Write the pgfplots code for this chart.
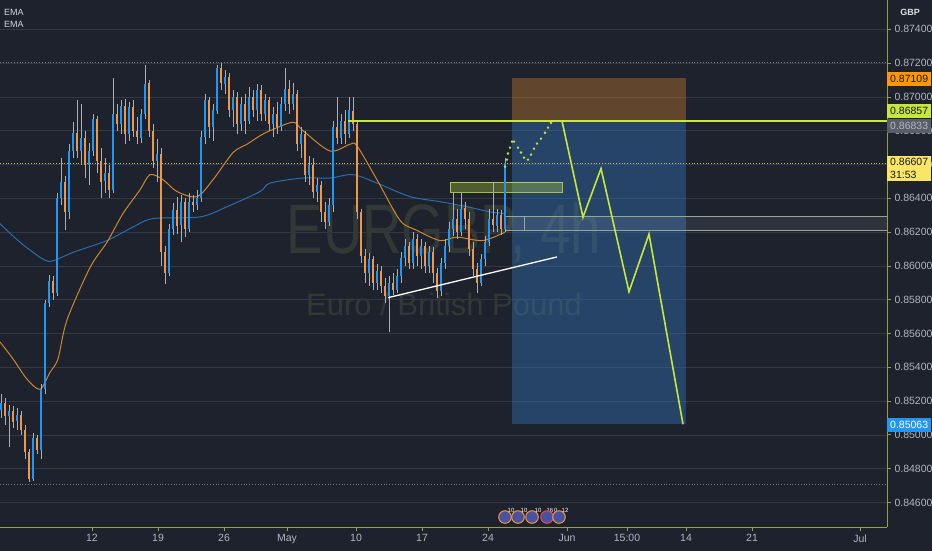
\documentclass[border=0pt]{standalone}
\usepackage{fontspec}
\setmainfont{Liberation Sans}
\usepackage{pgfplots}
\pgfplotsset{compat=1.18}
\usepackage{pgfplotstable}

\definecolor{bg}{RGB}{30,34,45}
\definecolor{gridc}{RGB}{52,56,68}
\definecolor{txt}{RGB}{178,181,190}
\definecolor{upc}{RGB}{33,150,243}
\definecolor{dnc}{RGB}{240,150,75}
\definecolor{wick}{RGB}{170,174,182}
\definecolor{limeg}{RGB}{200,230,60}
\definecolor{axisc}{RGB}{150,160,70}
\definecolor{emao}{RGB}{205,135,45}
\definecolor{emab}{RGB}{40,110,175}
\definecolor{wm}{RGB}{50,56,53}
\definecolor{boxblue}{RGB}{50,120,190}
\definecolor{boxbrown}{RGB}{180,115,45}
\definecolor{lbldark}{RGB}{19,23,34}
\tikzset{plbl/.style={anchor=west, inner xsep=3pt, inner ysep=0pt, minimum height=14pt, font=\fontsize{10.5}{12}\selectfont}}

% 4h candles, x in chart pixels
\pgfplotstableread{
x o h l c
1 0.8515 0.8524 0.8510 0.8519
5 0.8519 0.8522 0.8506 0.8511
9 0.8511 0.8518 0.8493 0.8514
13 0.8514 0.8517 0.8504 0.8508
17 0.8508 0.8516 0.8503 0.8512
21 0.8512 0.8514 0.8500 0.8503
25 0.8503 0.8506 0.8486 0.8490
29 0.8490 0.8492 0.8472 0.8474
33 0.8474 0.8501 0.8473 0.8498
37 0.8498 0.8500 0.8489 0.8491
41 0.8491 0.8530 0.8486 0.8527
45 0.8527 0.8580 0.8524 0.8578
49 0.8578 0.8595 0.8576 0.8591
53 0.8591 0.8594 0.8580 0.8584
57 0.8584 0.8643 0.8582 0.8640
61 0.8640 0.8664 0.8636 0.8650
65 0.8650 0.8653 0.8621 0.8632
69 0.8632 0.8672 0.8628 0.8668
73 0.8668 0.8685 0.8664 0.8679
77 0.8679 0.8698 0.8664 0.8668
81 0.8668 0.8696 0.8660 0.8676
85 0.8676 0.8680 0.8652 0.8660
89 0.8660 0.8673 0.8648 0.8668
93 0.8668 0.8690 0.8665 0.8687
97 0.8687 0.8689 0.8655 0.8662
101 0.8662 0.8670 0.8640 0.8650
105 0.8650 0.8664 0.8643 0.8655
109 0.8655 0.8660 0.8640 0.8645
113 0.8645 0.8711 0.8643 0.8690
117 0.8690 0.8696 0.8680 0.8684
121 0.8684 0.8698 0.8678 0.8695
125 0.8695 0.8699 0.8672 0.8678
129 0.8678 0.8697 0.8674 0.8694
133 0.8694 0.8698 0.8676 0.8680
137 0.8680 0.8688 0.8672 0.8676
141 0.8676 0.8693 0.8673 0.8690
145 0.8690 0.8719 0.8687 0.8708
149 0.8708 0.8710 0.8676 0.8680
153 0.8680 0.8684 0.8658 0.8662
157 0.8662 0.8675 0.8650 0.8666
161 0.8666 0.8670 0.8600 0.8608
165 0.8608 0.8612 0.8589 0.8596
169 0.8596 0.8625 0.8594 0.8622
173 0.8622 0.8637 0.8618 0.8633
177 0.8633 0.8641 0.8619 0.8624
181 0.8624 0.8642 0.8614 0.8638
185 0.8638 0.8640 0.8617 0.8622
189 0.8622 0.8643 0.8620 0.8638
193 0.8638 0.8642 0.8632 0.8636
197 0.8636 0.8645 0.8633 0.8640
201 0.8640 0.8680 0.8638 0.8676
205 0.8676 0.8702 0.8672 0.8698
209 0.8698 0.8700 0.8676 0.8682
213 0.8682 0.8696 0.8674 0.8692
217 0.8692 0.8719 0.8690 0.8717
221 0.8717 0.8720 0.8704 0.8708
225 0.8708 0.8716 0.8702 0.8712
229 0.8712 0.8714 0.8688 0.8692
233 0.8692 0.8704 0.8682 0.8700
237 0.8700 0.8703 0.8678 0.8684
241 0.8684 0.8700 0.8680 0.8696
245 0.8696 0.8702 0.8678 0.8686
249 0.8686 0.8706 0.8684 0.8700
253 0.8700 0.8704 0.8688 0.8692
257 0.8692 0.8708 0.8686 0.8704
261 0.8704 0.8707 0.8686 0.8690
265 0.8690 0.8702 0.8686 0.8698
269 0.8698 0.8700 0.8680 0.8684
273 0.8684 0.8694 0.8676 0.8690
277 0.8690 0.8697 0.8678 0.8682
281 0.8682 0.8700 0.8680 0.8696
285 0.8696 0.8717 0.8692 0.8705
289 0.8705 0.8710 0.8690 0.8696
293 0.8696 0.8708 0.8692 0.8702
297 0.8702 0.8704 0.8668 0.8672
301 0.8672 0.8682 0.8664 0.8678
305 0.8678 0.8680 0.8650 0.8654
309 0.8654 0.8665 0.8648 0.8660
313 0.8660 0.8664 0.8640 0.8644
317 0.8644 0.8652 0.8638 0.8648
321 0.8648 0.8650 0.8626 0.8632
325 0.8632 0.8638 0.8622 0.8626
329 0.8626 0.8640 0.8624 0.8636
333 0.8636 0.8686 0.8632 0.8682
337 0.8682 0.8700 0.8672 0.8676
341 0.8676 0.8690 0.8672 0.8686
345 0.8686 0.8692 0.8672 0.8678
349 0.8678 0.8700 0.8676 0.8692
353 0.8692 0.8700 0.8680 0.8684
357 0.8684 0.8686 0.8628 0.8632
361 0.8632 0.8634 0.8602 0.8606
365 0.8606 0.8610 0.8590 0.8596
369 0.8596 0.8608 0.8588 0.8604
373 0.8604 0.8606 0.8586 0.8590
377 0.8590 0.8601 0.8586 0.8597
381 0.8597 0.8600 0.8584 0.8588
385 0.8588 0.8593 0.8578 0.8582
389 0.8582 0.8594 0.8561 0.8590
393 0.8590 0.8596 0.8583 0.8586
397 0.8586 0.8598 0.8584 0.8594
401 0.8594 0.8608 0.8590 0.8605
405 0.8605 0.8616 0.8600 0.8612
409 0.8612 0.8614 0.8598 0.8602
413 0.8602 0.8620 0.8598 0.8616
417 0.8616 0.8619 0.8600 0.8606
421 0.8606 0.8616 0.8598 0.8612
425 0.8612 0.8614 0.8596 0.8600
429 0.8600 0.8612 0.8596 0.8608
433 0.8608 0.8611 0.8590 0.8596
437 0.8596 0.8599 0.8581 0.8585
441 0.8585 0.8605 0.8582 0.8602
445 0.8602 0.8616 0.8598 0.8612
449 0.8612 0.8626 0.8608 0.8622
453 0.8622 0.8643 0.8618 0.8628
457 0.8628 0.8634 0.8616 0.8620
461 0.8620 0.8643 0.8618 0.8634
465 0.8634 0.8638 0.8622 0.8628
469 0.8628 0.8632 0.8606 0.8610
473 0.8610 0.8614 0.8594 0.8598
477 0.8598 0.8602 0.8584 0.8590
481 0.8590 0.8607 0.8588 0.8604
485 0.8604 0.8618 0.8600 0.8614
489 0.8614 0.8634 0.8612 0.8628
493 0.8628 0.8649 0.8620 0.8624
497 0.8624 0.8634 0.8620 0.8630
501 0.8630 0.8633 0.8618 0.8622
505 0.8622 0.8664 0.8620 0.8661
}\candles

\begin{document}
\begin{tikzpicture}[x=1pt,y=1pt]
\fill[bg] (-600,-600) rectangle (1600,1600);
\begin{axis}[
  scale only axis, width=887pt, height=527pt,
  xmin=0, xmax=887, ymin=0.84455, ymax=0.875734,
  clip=false,
  axis x line*=bottom, axis y line*=right,
  axis line style={axisc, line width=0.8pt, -},
  tick align=outside, major tick length=4pt,
  tick style={axisc, line width=0.8pt},
  xtick={92,158,224,287,356,422,488,567,627,686,752,860},
  xticklabels={12,19,26,May,10,17,24,Jun,15:00,14,21,Jul},
  ytick={0.846,0.848,0.850,0.852,0.854,0.856,0.858,0.860,0.862,0.864,0.866,0.868,0.870,0.872,0.874},
  scaled y ticks=false,
  yticklabel style={/pgf/number format/.cd, fixed, fixed zerofill, precision=5, assume math mode=true},
  ticklabel style={font=\fontsize{10.5}{12}\selectfont, text=txt},
  ymajorgrids, major grid style={gridc, line width=0.6pt},
]
\coordinate (BL) at (axis cs:0,0.84455);
\coordinate (P1) at (axis cs:887,0.87106);
\coordinate (P2) at (axis cs:887,0.86918);
\coordinate (P3) at (axis cs:887,0.86830);
\coordinate (P4) at (axis cs:887,0.86576);
\coordinate (P5) at (axis cs:887,0.85059);
% watermark
\node[text=wm, font=\fontsize{70}{70}\selectfont, xscale=0.78, anchor=base] at (axis cs:444,0.86076) {EURGBP, 4h};
\node[text=wm, font=\fontsize{31}{31}\selectfont, anchor=base] at (axis cs:444,0.85709) {Euro / British Pound};

% position tool
\addplot[fill=boxbrown, fill opacity=0.45, draw=none] coordinates {(512,0.87109) (686,0.87109) (686,0.86857) (512,0.86857)} -- cycle;
\addplot[fill=boxblue, fill opacity=0.4, draw=none] coordinates {(512,0.86857) (686,0.86857) (686,0.85063) (512,0.85063)} -- cycle;

% zone band and rectangles
\addplot[fill=white, fill opacity=0.08, draw=none] coordinates {(505,0.86294) (887,0.86294) (887,0.86212) (505,0.86212)} -- cycle;
\addplot[draw={rgb,255:red,150;green,165;blue,150}, line width=0.8pt] coordinates {(505,0.86294) (887,0.86294)};
\addplot[draw={rgb,255:red,150;green,165;blue,150}, line width=0.8pt] coordinates {(505,0.86212) (887,0.86212)};
\addplot[draw={rgb,255:red,150;green,165;blue,150}, line width=0.8pt] coordinates {(505,0.86294) (505,0.86212)};
\addplot[draw={rgb,255:red,150;green,165;blue,150}, line width=0.8pt] coordinates {(524,0.86294) (524,0.86212)};
\addplot[fill=limeg, fill opacity=0.3, draw=limeg, draw opacity=0.8, line width=0.8pt] coordinates {(450,0.86496) (562,0.86496) (562,0.86437) (450,0.86437)} -- cycle;

% dotted reference lines
\addplot[draw={rgb,255:red,120;green,124;blue,134}, dotted, line width=0.8pt] coordinates {(0,0.87202) (887,0.87202)};
\addplot[draw={rgb,255:red,120;green,124;blue,134}, dotted, line width=0.8pt] coordinates {(0,0.84710) (887,0.84710)};
\addplot[draw={rgb,255:red,200;green,190;blue,90}, dotted, line width=0.8pt] coordinates {(0,0.86607) (887,0.86607)};

% EMAs
\addplot[draw=emab, line width=1pt, smooth] coordinates {
(0,0.8625) (20,0.8614) (43,0.8604) (53,0.8603) (73,0.8608) (107,0.8615) (133,0.8623)
(153,0.8628) (200,0.8629) (227,0.8635) (260,0.8644) (270,0.8649) (303,0.8652) (330,0.8652)
(353,0.8654) (377,0.8649) (410,0.8641) (440,0.8638) (467,0.8635) (490,0.8632) (505,0.8631)};
\addplot[draw=emao, line width=1pt, smooth] coordinates {
(0,0.8555) (13,0.8545) (27,0.8533) (40,0.8527) (50,0.8537) (58,0.8545) (67,0.8568) (90,0.8599)
(107,0.8614) (123,0.8631) (140,0.8645) (150,0.8654) (163,0.8651) (177,0.8644) (197,0.8641)
(213,0.8651) (233,0.8667) (247,0.8672) (260,0.8677) (270,0.8680) (293,0.8685) (303,0.8680)
(330,0.8668) (350,0.8672) (357,0.8671) (377,0.8651) (400,0.8627) (417,0.8621) (440,0.8615)
(457,0.8617) (483,0.8615) (505,0.8620)};

% candles: wicks, then bodies
\addplot[draw=none, error bars/.cd, y dir=both, y explicit, error mark=none,
  error bar style={wick, line width=0.7pt}]
  table[x=x, y expr={(\thisrow{h}+\thisrow{l})/2}, y error expr={(\thisrow{h}-\thisrow{l})/2}] {\candles};
\addplot[draw=none, y filter/.expression={\thisrow{c}>=\thisrow{o} ? y : nan},
  error bars/.cd, y dir=both, y explicit, error mark=none,
  error bar style={upc, line width=2.8pt}]
  table[x=x, y expr={(\thisrow{o}+\thisrow{c})/2}, y error expr={abs(\thisrow{c}-\thisrow{o})/2}] {\candles};
\addplot[draw=none, y filter/.expression={\thisrow{c}<\thisrow{o} ? y : nan},
  error bars/.cd, y dir=both, y explicit, error mark=none,
  error bar style={dnc, line width=2.8pt}]
  table[x=x, y expr={(\thisrow{o}+\thisrow{c})/2}, y error expr={abs(\thisrow{c}-\thisrow{o})/2}] {\candles};

% drawings
\addplot[draw=white, line width=1.3pt] coordinates {(388,0.85812) (557,0.86053)};
\addplot[draw=limeg, line width=1.4pt] coordinates {(348,0.86857) (887,0.86857)};
\addplot[only marks, mark=*, mark size=1pt, mark options={draw=limeg, fill=limeg}] coordinates {
(505,0.86588) (507,0.86629) (508,0.86665) (510,0.86700) (512,0.86735) (514,0.86735)
(518,0.86700) (521,0.86671) (524,0.86641) (528,0.86629) (531,0.86659) (534,0.86694)
(537,0.86724) (541,0.86753) (545,0.86788) (548,0.86818) (551,0.86847)};
\addplot[draw=limeg, line width=1.6pt] coordinates {
(562,0.86857) (583,0.86288) (601,0.86576) (629,0.85847) (649,0.86188) (683,0.85063)};

% event markers
\addplot[only marks, mark=*, mark size=6.3pt, mark options={fill={rgb,255:red,72;green,82;blue,160}, draw={rgb,255:red,240;green,150;blue,60}, line width=1pt}]
  coordinates {(505,0.84514) (518,0.84514) (532,0.84514)};
\addplot[only marks, mark=*, mark size=6.3pt, mark options={fill={rgb,255:red,72;green,82;blue,160}, draw={rgb,255:red,235;green,70;blue,90}, line width=1pt}]
  coordinates {(547,0.84514)};
\addplot[only marks, mark=*, mark size=6.3pt, mark options={fill={rgb,255:red,72;green,82;blue,160}, draw={rgb,255:red,240;green,150;blue,60}, line width=1pt}]
  coordinates {(559,0.84514)};
\node[text=white, font=\fontsize{6}{6}\selectfont] at (axis cs:511,0.84555) {10};
\node[text=white, font=\fontsize{6}{6}\selectfont] at (axis cs:524,0.84555) {10};
\node[text=white, font=\fontsize{6}{6}\selectfont] at (axis cs:538,0.84555) {10};
\node[text=white, font=\fontsize{6}{6}\selectfont] at (axis cs:552,0.84555) {16\,0};
\node[text=white, font=\fontsize{6}{6}\selectfont] at (axis cs:565,0.84555) {12};

% legend texts
\node[anchor=west, text={rgb,255:red,210;green,212;blue,218}, font=\fontsize{9}{9}\selectfont, inner sep=0pt, xshift=4pt, yshift=-12pt] at (rel axis cs:0,1) {EMA};
\node[anchor=west, text={rgb,255:red,210;green,212;blue,218}, font=\fontsize{9}{9}\selectfont, inner sep=0pt, xshift=4pt, yshift=-24pt] at (rel axis cs:0,1) {EMA};
\node[text={rgb,255:red,220;green,222;blue,228}, font=\fontsize{9}{9}\selectfont\bfseries, inner sep=0pt, xshift=910pt, yshift=-12pt] at (rel axis cs:0,1) {GBP};
\end{axis}

% price labels on the right scale, over the tick labels
\node[plbl, fill={rgb,255:red,255;green,152;blue,0}, text=lbldark] at (P1) {0.87109};
\node[plbl, fill=limeg, text=lbldark] at (P2) {0.86857};
\node[plbl, fill={rgb,255:red,90;green,94;blue,104}, text=txt] at (P3) {0.86833};
\node[anchor=west, inner xsep=3pt, inner ysep=2pt, fill={rgb,255:red,250;green,230;blue,100}, text=lbldark,
  font=\fontsize{10.5}{13}\selectfont, align=left] at (P4) {0.86607\\31:53};
\node[plbl, fill=upc, text=white] at (P5) {0.85063};

\pgfresetboundingbox
\path[use as bounding box] (BL) ++(0,-23) rectangle ++(932,550);
\end{tikzpicture}
\end{document}
